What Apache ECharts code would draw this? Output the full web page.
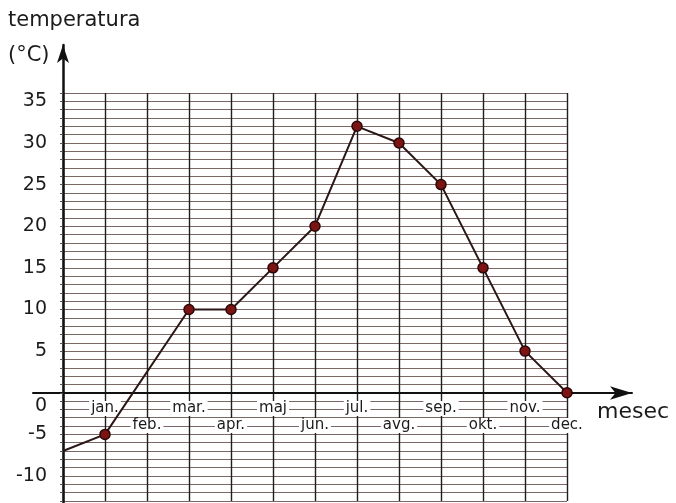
<!DOCTYPE html>
<html>
<head>
<meta charset="utf-8">
<script src="https://cdn.jsdelivr.net/npm/echarts@6/dist/echarts.min.js"></script>
<style>html,body{margin:0;padding:0;background:#fff}#c{width:676px;height:503px}</style>
</head>
<body>
<div id="c"></div>
<script>
// ---- data ----
const months = ['jan.', 'feb.', 'mar.', 'apr.', 'maj', 'jun.', 'jul.', 'avg.', 'sep.', 'okt.', 'nov.', 'dec.'];
const temps = [-5, null, 10, 10, 15, 20, 32, 30, 25, 15, 5, 0];
const startTemp = -7;
const yTickLabels = [35, 30, 25, 20, 15, 10, 5, 0, -5, -10];
const yTitle = 'temperatura';
const yUnit = '(°C)';
const xTitle = 'mesec';

const FONT = 'DejaVu Sans';
const INK = '#1b1b1b';

const lineData = [{ value: [0, startTemp], symbol: 'none' }];
months.forEach((m, i) => {
  if (temps[i] !== null) lineData.push([i + 1, temps[i]]);
});

const chart = echarts.init(document.getElementById('c'), null, { renderer: 'canvas' });
chart.setOption({
  backgroundColor: '#ffffff',
  animation: false,
  title: [
    { text: yTitle, left: 8, top: 10, padding: 0, textStyle: { fontFamily: FONT, fontSize: 21, fontWeight: 'normal', color: INK } },
    { text: yUnit, left: 8, top: 45, padding: 0, textStyle: { fontFamily: FONT, fontSize: 21, fontWeight: 'normal', color: INK } },
    { text: xTitle, left: 597, top: 401, padding: 0, textStyle: { fontFamily: FONT, fontSize: 22, fontWeight: 'normal', color: INK } }
  ],
  grid: [
    // graph paper
    { left: 63, right: 109, top: 93, bottom: 2, containLabel: false, outerBoundsMode: 'none' },
    // long arrowed axes
    { left: 33, right: 44, top: 45, bottom: 0, containLabel: false, outerBoundsMode: 'none' },
    // month labels band: bottom edge sits on the 0 °C line
    { left: 63, right: 109, top: 93, bottom: 110, containLabel: false, outerBoundsMode: 'none' }
  ],
  xAxis: [
    {
      type: 'value', gridIndex: 0, min: 0, max: 12, interval: 1,
      axisLine: { show: false },
      axisTick: { show: false },
      axisLabel: { show: false },
      splitLine: { show: true, lineStyle: { color: '#1e1e1e', width: 1.4 } }
    },
    {
      type: 'value', gridIndex: 1, min: -0.714, max: 13.55,
      axisLine: { show: true, onZero: true, symbol: ['none', 'arrow'], symbolSize: [10, 22], lineStyle: { color: '#111', width: 2 } },
      axisTick: { show: false }, axisLabel: { show: false }, splitLine: { show: false }
    },
    {
      type: 'value', gridIndex: 2, min: 0, max: 12, interval: 1, position: 'bottom', z: 4,
      axisLine: { show: false, onZero: false },
      axisTick: { show: false },
      splitLine: { show: false },
      axisLabel: {
        show: true, margin: 7, showMinLabel: true, showMaxLabel: true, hideOverlap: false,
        formatter: function (v) {
          const i = Math.round(v);
          if (i < 1 || i > months.length) return '';
          return (i % 2 === 1) ? '{a|' + months[i - 1] + '}' : '{s| }\n{a|' + months[i - 1] + '}';
        },
        rich: {
          a: { fontFamily: FONT, fontSize: 15, color: INK, backgroundColor: '#ffffff', lineHeight: 17, padding: [0, 2, 0, 2] },
          s: { fontSize: 10, lineHeight: 17 }
        }
      }
    }
  ],
  yAxis: [
    {
      type: 'value', gridIndex: 0, min: -13, max: 36, interval: 1,
      axisLine: { show: false },
      axisTick: { show: true, length: 3, lineStyle: { color: '#555' } },
      splitLine: { show: true, lineStyle: { color: '#7a6866', width: 1 } },
      axisLabel: {
        show: true, margin: 16,
        formatter: function (v) {
          if (yTickLabels.indexOf(v) < 0) return '';
          return v === 0 ? '{z|0}' : '{n|' + v + '}';
        },
        rich: {
          n: { fontFamily: FONT, fontSize: 19, color: INK },
          z: { fontFamily: FONT, fontSize: 19, color: INK, padding: [26, 0, 0, 0] }
        }
      }
    },
    {
      type: 'value', gridIndex: 1, min: -13.21, max: 41.79,
      axisLine: { show: true, onZero: true, symbol: ['none', 'arrow'], symbolSize: [9, 18], lineStyle: { color: '#111', width: 2.5 } },
      axisTick: { show: false }, axisLabel: { show: false }, splitLine: { show: false }
    },
    {
      type: 'value', gridIndex: 2, min: 0, max: 36, show: false
    }
  ],
  series: [
    {
      type: 'line', xAxisIndex: 0, yAxisIndex: 0,
      data: lineData,
      connectNulls: true,
      symbol: 'circle', symbolSize: 10,
      lineStyle: { color: '#2a1716', width: 2 },
      itemStyle: { color: '#7d1414', borderColor: '#2a0808', borderWidth: 1.5 },
      z: 5
    }
  ]
});
</script>
</body>
</html>
